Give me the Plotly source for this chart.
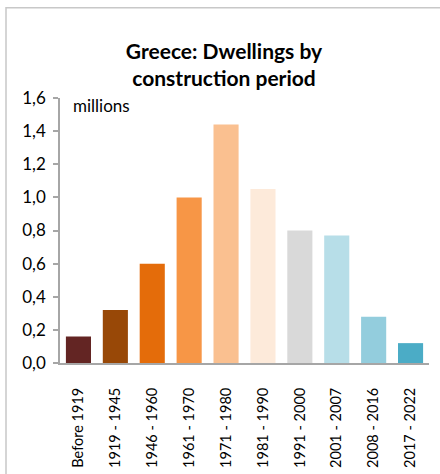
import plotly.graph_objects as go

# Dwellings in Greece by construction period (millions)
periods = ["Before 1919", "1919 - 1945", "1946 - 1960", "1961 - 1970", "1971 - 1980",
           "1981 - 1990", "1991 - 2000", "2001 - 2007", "2008 - 2016", "2017 - 2022"]
dwellings = [0.16, 0.32, 0.60, 1.00, 1.44, 1.05, 0.80, 0.77, 0.28, 0.12]
bar_colors = ["#632523", "#984807", "#E46C0A", "#F79646", "#FAC090",
              "#FDEADA", "#D9D9D9", "#B7DEE8", "#93CDDD", "#4BACC6"]
y_ticks = [0.0, 0.2, 0.4, 0.6, 0.8, 1.0, 1.2, 1.4, 1.6]

FONT = "Lato, Calibri, sans-serif"
W, H = 440, 474
ML, MR, MT, MB = 60, 11, 97.5, 110.7

fig = go.Figure(go.Bar(
    x=periods, y=dwellings,
    marker=dict(color=bar_colors, line=dict(width=0)),
    hoverinfo="x+y",
))

plot_w = W - ML - MR
plot_h = H - MT - MB

fig.update_layout(
    width=W, height=H,
    margin=dict(l=ML, r=MR, t=MT, b=MB, autoexpand=False),
    paper_bgcolor="white", plot_bgcolor="white",
    separators=",.",
    bargap=0.32,
    showlegend=False,
    font=dict(family=FONT, color="#000000", size=16),
    title=dict(
        text="<b>Greece: Dwellings by<br>construction period</b>",
        x=224 / W, xanchor="center", xref="container",
        y=1 - 59 / H, yanchor="middle", yref="container",
        font=dict(family=FONT, size=21, color="#000000"),
    ),
    xaxis=dict(
        showgrid=False, showline=True, linecolor="#A6A6A6", linewidth=2,
        tickangle=-90, ticks="", ticklabelstandoff=17,
        tickfont=dict(family=FONT, size=14.5, color="#000000"),
    ),
    yaxis=dict(
        range=[0, 1.6], tickvals=y_ticks, tickformat=".1f",
        showgrid=False, zeroline=False, showline=True, linecolor="#A6A6A6", linewidth=1.5,
        ticks="outside", ticklen=5, tickcolor="#A6A6A6", tickwidth=1.5,
        ticklabelstandoff=4,
        tickfont=dict(family=FONT, size=17, color="#000000"),
    ),
    annotations=[dict(
        text="millions", xref="paper", yref="paper",
        x=(71 - ML) / plot_w, y=(H - MB - 105) / plot_h,
        xanchor="left", yanchor="middle", showarrow=False,
        font=dict(family=FONT, size=17, color="#000000"),
    )],
    shapes=[dict(
        type="rect", xref="paper", yref="paper",
        x0=(6 - ML) / plot_w, x1=2.0,
        y0=-1.0, y1=(H - MB - 7) / plot_h,
        line=dict(color="#C8C8C8", width=1.5), fillcolor="rgba(0,0,0,0)",
        layer="below",
    )],
)

fig.write_html("out.html")
